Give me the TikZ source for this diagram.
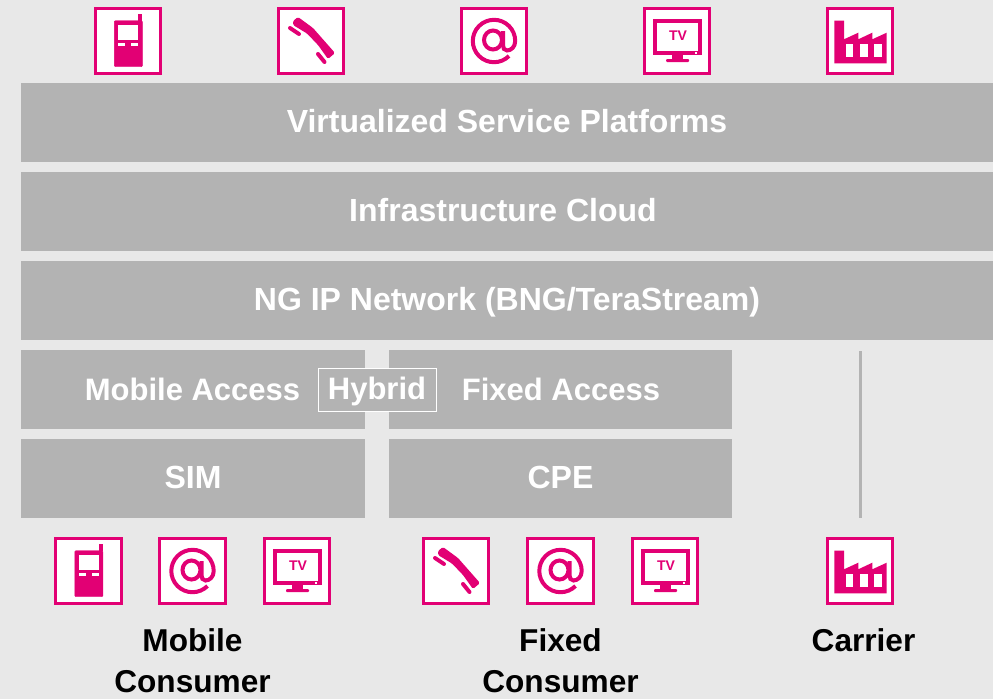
\documentclass[tikz,border=0pt]{standalone}
\usepackage{fontspec}
\setmainfont{Liberation Sans}
\definecolor{tmagenta}{HTML}{E20074}
\definecolor{barGray}{HTML}{B3B3B3}
\definecolor{bgGray}{HTML}{E8E8E8}
\tikzset{
    bar/.style={fill=barGray, inner sep=0pt, text=white, font=\fontsize{32}{32}\selectfont\bfseries, text height=24pt, text depth=4pt},
    barlabel/.style={bar, fill=none, font=\fontsize{31}{31}\selectfont\bfseries},
    caption/.style={font=\fontsize{31.6}{41}\selectfont\bfseries, align=center, text=black, inner sep=0pt},
    iconframe/.pic={
        \filldraw[fill=white, draw=tmagenta, line width=3pt] (-32.7,-32.7) rectangle (32.7,32.7);
    },
    iconmobile/.pic={
        \pic {iconframe};
        \filldraw[tmagenta, rounded corners=1pt] (-13.7,-20.3) rectangle (14.3,25.7);
        \fill[tmagenta] (10.3,-27) rectangle (14.3,-20);
        \fill[white] (-9.7,-16) rectangle (10.3,-1);
        \fill[white] (-9.7,2.3) rectangle (-2.7,5);
        \fill[white] (3.3,2.3) rectangle (10.3,5);
    },
    iconphone/.pic={
        \pic {iconframe};
        \fill[tmagenta, rounded corners=1.5pt] (-18,-20) -- (-13,-24) -- (2,-13) -- (24,12) -- (17,18) -- (7,4) -- (-4,-7.5) -- (-18,-16) -- cycle;
        \draw[tmagenta, line width=4pt, line cap=round] (-21,-13) -- (-12,-7);
        \draw[tmagenta, line width=4pt, line cap=round] (7,13) -- (13.5,21);
    },
    iconat/.pic={
        \pic {iconframe};
        \draw[tmagenta, line width=4pt] (15,15) arc[start angle=45, end angle=360, radius=21.2] .. controls (21.2,6) and (17,9.5) .. (13,9.5) .. controls (10,9.5) and (9,7) .. (9,4) -- (9,-10);
        \draw[tmagenta, line width=4pt] (-1,-1) ellipse[x radius=9, y radius=9.5];
    },
    icontv/.pic={
        \pic {iconframe};
        \fill[tmagenta] (-24,-21.7) rectangle (25,14);
        \fill[white] (-20,-17.7) rectangle (21,10);
        \fill[white] (17.5,11) rectangle (20,12.5);
        \fill[tmagenta] (-5,14) rectangle (6,19);
        \fill[tmagenta, rounded corners=1pt] (-11,18) rectangle (12,21);
        \node[inner sep=0pt, text=tmagenta, font=\fontsize{14}{14}\selectfont\bfseries] (tvtext) at (1,-5) {TV};
    },
    iconcarrier/.pic={
        \pic {iconframe};
        \fill[tmagenta] (-25.7,-20.3) -- (-16,-20.3) -- (-16,-1.7) -- (-1.7,-8.3) -- (-1.7,-1.7) -- (12.3,-8.3) -- (12.3,-1.7) -- (26.7,-8.3) -- (26.7,22.3) -- (-25.7,22.3) -- cycle;
        \fill[white] (-14.3,3) rectangle (-6.7,15.7);
        \fill[white] (0,3) rectangle (7.7,15.7);
        \fill[white] (14.3,3) rectangle (22,15.7);
    }
}
\begin{document}
\begin{tikzpicture}[x=1pt, y=-1pt]
    \fill[bgGray] (0,0) rectangle (993,699);
    \useasboundingbox (0,0) rectangle (993,699);

    % top row
    \pic (topmobile) at (128,41) {iconmobile};
    \pic (topphone) at (311,41) {iconphone};
    \pic (topat) at (494,41) {iconat};
    \pic (toptv) at (677,41) {icontv};
    \pic (topcarrier) at (860,41) {iconcarrier};

    % layers
    \node[bar, minimum width=972pt, minimum height=79pt] (platforms) at (507,122.5) {Virtualized Service Platforms};
    \node[bar, minimum width=972pt, minimum height=79pt] (cloud) at (507,211.5) {Infrastructure Cloud\hspace*{8pt}};
    \node[bar, minimum width=972pt, minimum height=79pt] (network) at (507,300.5) {NG IP Network (BNG/TeraStream)};

    \node[bar, minimum width=344pt, minimum height=79pt] (mobileaccess) at (193,389.5) {};
    \node[bar, minimum width=343.5pt, minimum height=79pt] (fixedaccess) at (560.5,389.5) {};
    \node[bar, minimum width=344pt, minimum height=79pt] (sim) at (193,478.5) {SIM};
    \node[bar, minimum width=343.5pt, minimum height=79pt] (cpe) at (560.5,478.5) {CPE};

    \node[barlabel] (mobilelabel) at (192.5,390) {Mobile Access};
    \node[barlabel] (fixedlabel) at (561,390) {Fixed Access};
    \node[barlabel, fill=barGray, draw=white, line width=0.8pt, minimum width=118pt, minimum height=43pt] (hybrid) at (377,389.5) {Hybrid};

    \coordinate (carriertop) at (860.5,351);
    \coordinate (carrierbottom) at (860.5,518);
    \draw[barGray, line width=2.5pt] (carriertop) -- (carrierbottom);

    % bottom row
    \pic (botmobile) at (88.5,571) {iconmobile};
    \pic (botat) at (192.5,571) {iconat};
    \pic (bottv) at (297,571) {icontv};
    \pic (botphone) at (456,571) {iconphone};
    \pic (botatfixed) at (560.5,571) {iconat};
    \pic (bottvfixed) at (665,571) {icontv};
    \pic (botcarrier) at (860,571) {iconcarrier};

    \node[caption] (mobilecaption) at (192.5,661) {Mobile\\Consumer};
    \node[caption] (fixedcaption) at (560.5,661) {Fixed\\Consumer};
    \node[caption, anchor=north] (carriercaption) at (863.5,628) {Carrier};
\end{tikzpicture}
\end{document}
